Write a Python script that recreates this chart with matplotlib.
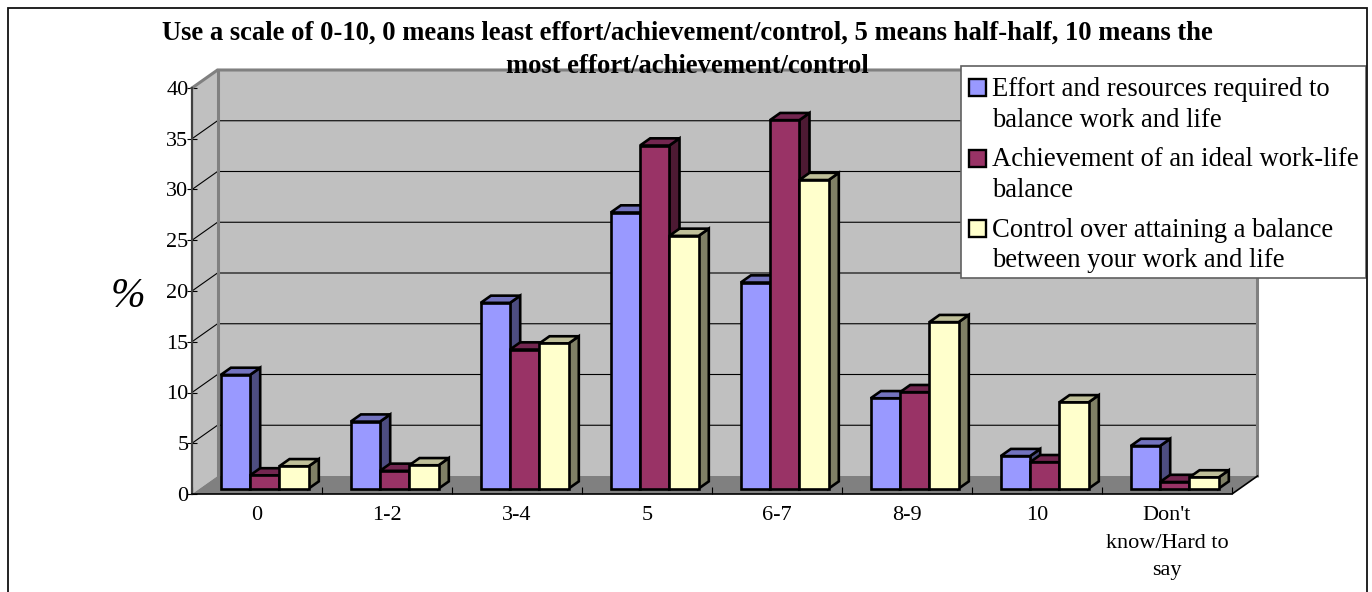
import matplotlib
matplotlib.use('Agg')
import matplotlib.pyplot as plt
from matplotlib.legend_handler import HandlerPatch
from matplotlib.patches import Patch, Polygon, Rectangle

W, H = 1372, 592

categories = ['0', '1-2', '3-4', '5', '6-7', '8-9', '10', "Don't\nknow/Hard to\nsay"]
effort = [11.2, 6.6, 18.3, 27.2, 20.3, 8.9, 3.2, 4.2]
achievement = [1.3, 1.75, 13.7, 33.8, 36.3, 9.5, 2.6, 0.65]
control = [2.2, 2.3, 14.3, 24.9, 30.4, 16.4, 8.5, 1.1]
series_names = ['Effort and resources required to\nbalance work and life',
                'Achievement of an ideal work-life\nbalance',
                'Control over attaining a balance\nbetween your work and life']
title = ('Use a scale of 0-10, 0 means least effort/achievement/control, 5 means half-half, 10 means the\n'
         'most effort/achievement/control')

# front, side, top colours of each series
COLORS = [('#9999ff', '#4d4d80', '#7373bf'),
          ('#993366', '#4d1a33', '#732650'),
          ('#ffffcc', '#808066', '#bfbf99')]

plt.rcParams['font.family'] = ['Liberation Serif', 'DejaVu Serif']

fig = plt.figure(figsize=(W / 100, H / 100), dpi=100)
fig.patch.set_facecolor('white')

# outer chart frame, its bottom edge falls off the canvas
fig.add_artist(Rectangle((7.5 / W, 1 - 600 / H), 1359 / W, 592.5 / H, transform=fig.transFigure,
                         fill=False, ec='#111111', lw=1.3))

# axes area is the front plane of the 3D box
left, right, bottom, top = 192, 1232, 494, 88
ax = fig.add_axes([left / W, 1 - bottom / H, (right - left) / W, (bottom - top) / H])
ax.set_xlim(0, len(categories))
ax.set_ylim(0, 40)
ax.patch.set_visible(False)
for s in ['top', 'right', 'left', 'bottom']:
    ax.spines[s].set_visible(False)

# depth of the box in data units
DX = 25.5 / 130
DY = 18 / 10.15
n = len(categories)


def poly(pts, fc='none', ec='none', lw=0, z=1):
    ax.add_patch(Polygon(pts, closed=True, fc=fc, ec=ec, lw=lw, zorder=z, clip_on=False))


# walls and floor
poly([(0, 0), (DX, DY), (DX, 40 + DY), (0, 40)], fc='#c0c0c0', z=1)
poly([(DX, DY), (n + DX, DY), (n + DX, 40 + DY), (DX, 40 + DY)], fc='#c0c0c0', z=1)
poly([(0, 0), (n, 0), (n + DX, DY), (DX, DY)], fc='#808080', z=1)

yticks = list(range(0, 45, 5))
for v in yticks[1:-1]:
    ax.plot([0, DX, n + DX], [v, v + DY, v + DY], color='black', lw=0.8, zorder=2, clip_on=False)

ax.plot([0, DX, n + DX, n + DX], [40, 40 + DY, 40 + DY, DY], color='#808080', lw=2.2, zorder=2,
        clip_on=False, solid_joinstyle='miter')
ax.plot([DX, DX], [DY, 40 + DY], color='#808080', lw=2.2, zorder=2, clip_on=False)
ax.plot([0, 0], [0, 40], color='#404040', lw=1.6, zorder=3, clip_on=False)
ax.plot([0, n, n + DX], [0, 0, DY], color='black', lw=1.2, zorder=3, clip_on=False)

# clustered bars, painted left to right so later fronts cover earlier sides
BAR_W = 29.3 / 130
DEPTH = 0.4
START = 0.3
for i in range(n):
    x0 = i + 0.5 - 1.5 * BAR_W + START * DX
    y0 = START * DY
    for k, vals in enumerate([effort, achievement, control]):
        x = x0 + k * BAR_W
        y = y0 + vals[i]
        ddx, ddy = DEPTH * DX, DEPTH * DY
        front, side, upper = COLORS[k]
        z = 4 + i + k * 0.1
        style = dict(ec='black', lw=1.9, z=z)
        poly([(x + BAR_W, y0), (x + BAR_W + ddx, y0 + ddy), (x + BAR_W + ddx, y + ddy), (x + BAR_W, y)],
             fc=side, **style)
        poly([(x, y), (x + BAR_W, y), (x + BAR_W + ddx, y + ddy), (x + ddx, y + ddy)], fc=upper, **style)
        poly([(x, y0), (x + BAR_W, y0), (x + BAR_W, y), (x, y)], fc=front, **style)

# ticks
ax.set_yticks(yticks)
ax.tick_params(axis='y', direction='inout', length=7, width=0.8, labelsize=16, pad=-1, color='black')
ax.set_xticks([i + 0.5 for i in range(n)])
ax.set_xticklabels(categories, linespacing=1.62)
ax.set_xticks(range(n + 1), minor=True)
ax.tick_params(axis='x', which='major', length=0, labelsize=16, pad=8.7)
ax.tick_params(axis='x', which='minor', direction='in', length=5, width=0.8, color='black', zorder=3)

fig.text(128 / W, 1 - 297 / H, '%', fontsize=30, style='italic', ha='center', va='center')
fig.text(687 / W, 1 - 50 / H, title, fontsize=19.2, fontweight='bold', ha='center', va='center',
         linespacing=1.47)


def square(legend, orig_handle, xdescent, ydescent, width, height, fontsize):
    # sits beside the first line of its two-line label
    return Rectangle((0, 10.9), 12.2, 12.2)


handles = [Patch(facecolor=c[0], edgecolor='black', linewidth=1.7, label=name)
           for c, name in zip(COLORS, series_names)]
leg = ax.legend(handles=handles, loc='upper left', bbox_to_anchor=(961 / W, 1 - 66 / H),
                bbox_transform=fig.transFigure, fontsize=19.2, frameon=True, fancybox=False,
                edgecolor='#606060', facecolor='white', framealpha=1, borderaxespad=0, borderpad=0.3,
                labelspacing=0.56, handlelength=0.67, handletextpad=0.18,
                handler_map={Patch: HandlerPatch(patch_func=square)})
leg.set_zorder(20)
leg.get_frame().set_linewidth(1.2)
for t in leg.get_texts():
    t.set_linespacing(1.29)
    t.set_y(-3)

fig.savefig('out.png', dpi=100)
